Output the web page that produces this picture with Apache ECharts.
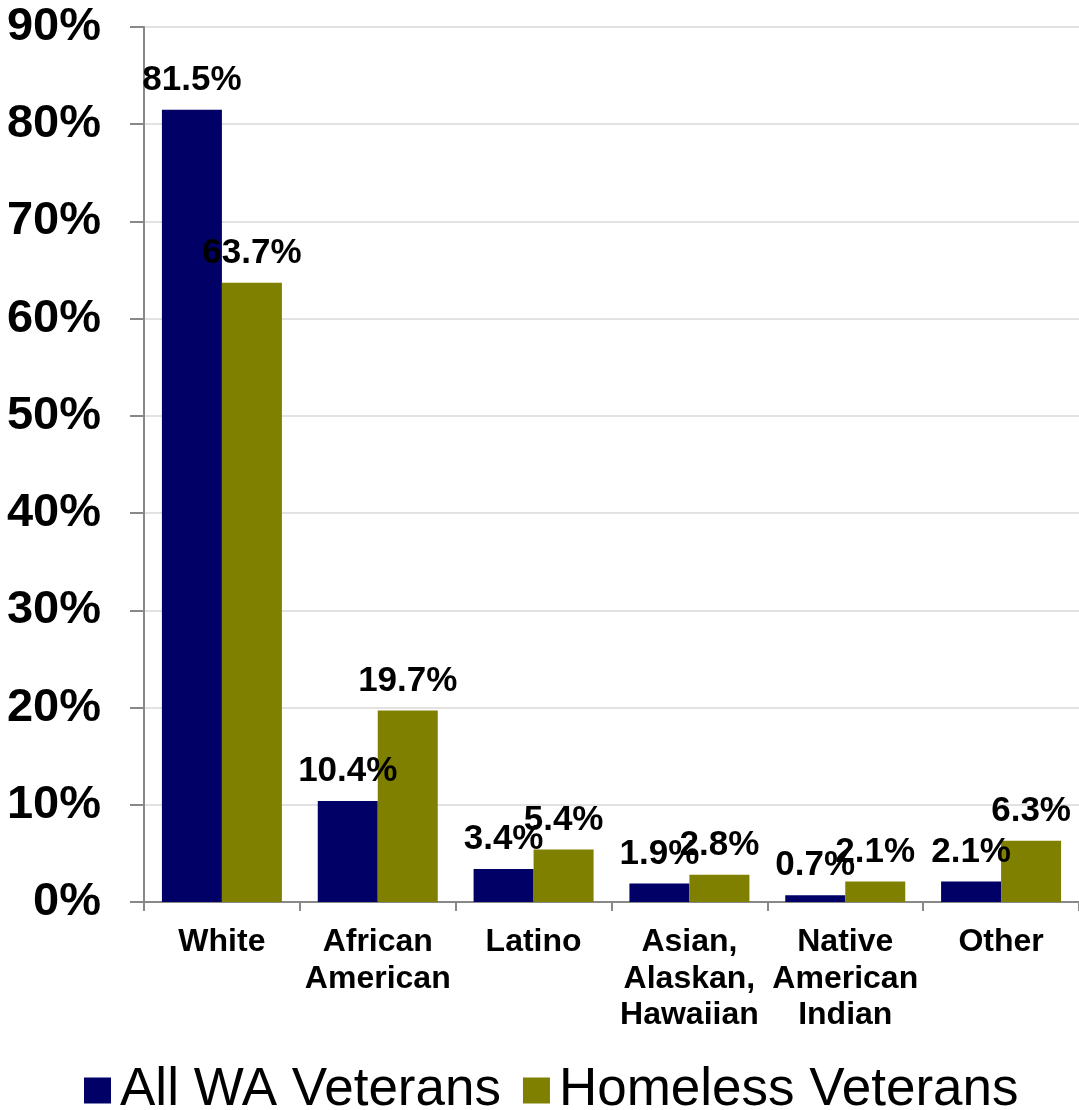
<!DOCTYPE html>
<html>
<head>
<meta charset="utf-8">
<script src="https://cdn.jsdelivr.net/npm/echarts@6/dist/echarts.min.js"></script>
<style>
  html, body { margin: 0; padding: 0; background: #fff; }
  #main { width: 1079px; height: 1110px; }
</style>
</head>
<body>
<div id="main"></div>
<script>
var categories = ["White", "African\nAmerican", "Latino", "Asian,\nAlaskan,\nHawaiian", "Native\nAmerican\nIndian", "Other"];
var allVeterans = [81.5, 10.4, 3.4, 1.9, 0.7, 2.1];
var homelessVeterans = [63.7, 19.7, 5.4, 2.8, 2.1, 6.3];
var seriesNames = ["All WA Veterans", "Homeless Veterans"];

var font = "Liberation Sans, Arial, sans-serif";

var valueLabel = {
  show: true,
  position: "top",
  distance: 12,
  color: "#000",
  fontSize: 35,
  fontWeight: "bold",
  fontFamily: font,
  formatter: function (p) { return p.value.toFixed(1) + "%"; }
};

var chartDom = document.getElementById("main");
var myChart = echarts.init(chartDom, null, { renderer: "canvas" });

var option = {
  animation: false,
  color: ["#000066", "#808000"],
  grid: {
    left: 144,
    right: 0,
    top: 27,
    bottom: 208,
    containLabel: false,
    outerBoundsMode: "none"
  },
  legend: {
    data: seriesNames,
    left: 79,
    top: 1059,
    icon: "rect",
    itemWidth: 27,
    itemHeight: 26,
    itemGap: 22,
    textStyle: {
      fontSize: 53,
      color: "#000",
      fontFamily: font,
      padding: [0, 0, 0, 4]
    }
  },
  xAxis: {
    type: "category",
    data: categories,
    axisLine: { lineStyle: { color: "#888", width: 2 } },
    axisTick: { show: true, length: 9, lineStyle: { color: "#888", width: 2 } },
    axisLabel: {
      interval: 0,
      margin: 22,
      color: "#000",
      fontSize: 32,
      fontWeight: "bold",
      lineHeight: 36.5,
      fontFamily: font
    }
  },
  yAxis: {
    type: "value",
    min: 0,
    max: 90,
    interval: 10,
    axisLine: { show: true, lineStyle: { color: "#888", width: 2 } },
    axisTick: { show: true, length: 14, lineStyle: { color: "#888", width: 2 } },
    splitLine: { lineStyle: { color: "#d9d9d9", width: 1.5 } },
    axisLabel: {
      formatter: "{value}%",
      margin: 43,
      color: "#000",
      fontSize: 47,
      fontWeight: "bold",
      fontFamily: font
    }
  },
  series: [
    {
      name: seriesNames[0],
      type: "bar",
      data: allVeterans,
      barWidth: 60,
      barGap: "0%",
      label: valueLabel
    },
    {
      name: seriesNames[1],
      type: "bar",
      data: homelessVeterans,
      barWidth: 60,
      barGap: "0%",
      label: valueLabel
    }
  ]
};

option && myChart.setOption(option);
</script>
</body>
</html>
